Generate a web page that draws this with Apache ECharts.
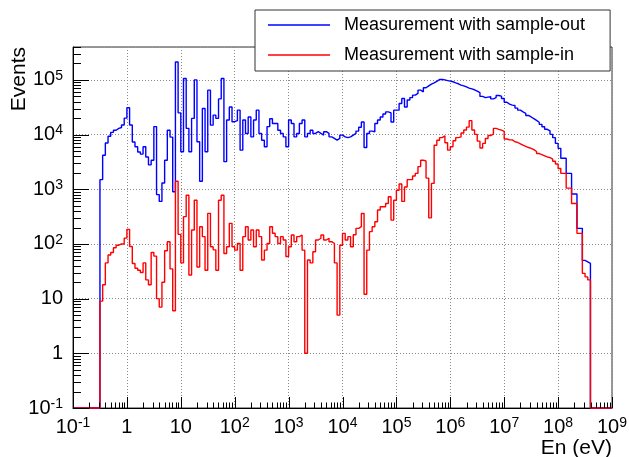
<!DOCTYPE html>
<html>
<head>
<meta charset="utf-8">
<script src="https://cdn.jsdelivr.net/npm/echarts@6/dist/echarts.min.js"></script>
<style>
  html, body { margin: 0; padding: 0; background: #ffffff; }
  #chart { width: 629px; height: 457px; }
</style>
</head>
<body>
<div id="chart"></div>
<script>
// Histogram binning: equal-width bins in log10(E), starting at 0.1 eV
const binsPerDecade = 20;
const energyLow = 0.1;

const seriesNames = ['Measurement with sample-out', 'Measurement with sample-in'];

// Counts per bin (200 bins, 0.1 eV .. 1 GeV)
const sampleOut = [
  0, 0, 0, 0, 0, 0, 0, 0, 0, 0,
  1500, 4200, 7000, 9300, 11000, 12000, 13000, 13500, 15000, 20000,
  31000, 15000, 7300, 6000, 4800, 4400, 6000, 3900, 2800, 3400,
  14000, 800, 600, 1300, 3400, 12000, 9000, 900, 213000, 25000,
  4850, 106000, 13000, 4850, 19800, 100000, 7400, 1400, 30000, 4850,
  65000, 14900, 22700, 19800, 45000, 106000, 3200, 18500, 32000, 17200,
  18000, 28000, 5200, 18500, 10500, 21000, 9100, 18500, 28000, 10500,
  7900, 6000, 14000, 19500, 16000, 16000, 12000, 10500, 9100, 6000,
  18500, 16000, 9100, 10500, 16000, 18500, 9100, 10500, 12000, 10500,
  11300, 10500, 9800, 11300, 10500, 9100, 8500, 7900, 8500, 9800,
  9100, 8800, 9100, 9800, 10500, 11600, 13600, 17000, 5800, 10500,
  11600, 11300, 16000, 18500, 21000, 23800, 26000, 25000, 17000, 28000,
  28000, 37000, 45800, 32000, 43000, 47500, 52700, 56600, 65000, 60700,
  72000, 78000, 84000, 88500, 94000, 102000, 102000, 100000, 97000, 95000,
  92500, 88500, 85000, 80400, 78000, 74800, 71000, 68500, 66000, 62500,
  58500, 50000, 47500, 48500, 49100, 45000, 47500, 52000, 50500, 45800,
  39000, 36000, 34600, 34000, 30500, 28000, 26000, 24500, 22400, 21000,
  19600, 18200, 16800, 15400, 13900, 12500, 11700, 10100, 8800, 6900,
  5600, 3700, 3700, 1950, 1950, 820, 820, 193, 193, 50,
  47, 44, 0, 0, 0, 0, 0, 0, 0, 0
];

const sampleIn = [
  0, 0, 0, 0, 0, 0, 0, 0, 0, 0,
  9, 18, 45, 63, 70, 85, 95, 100, 100, 128,
  185, 90, 44, 36, 33, 30, 45, 22, 18, 70,
  60, 10, 7, 20, 75, 110, 35, 6, 1400, 150,
  45, 316, 780, 27, 180, 630, 38, 207, 136, 33,
  363, 89, 78, 33, 630, 780, 67, 89, 238, 89,
  77, 102, 33, 136, 207, 118, 180, 89, 180, 136,
  51, 77, 102, 207, 157, 136, 102, 136, 118, 59,
  89, 146, 110, 136, 146, 77, 1, 51, 45, 72,
  118, 127, 146, 118, 127, 110, 102, 45, 5, 95,
  156, 118, 136, 89, 147, 193, 207, 360, 12, 77,
  168, 207, 255, 417, 479, 479, 550, 730, 273, 632,
  960, 1250, 600, 1100, 1500, 1500, 1750, 1950, 2600, 3400,
  3300, 1600, 300, 1280, 6400, 7900, 8800, 9500, 7100, 5200,
  6000, 7700, 8800, 9100, 10700, 12100, 13700, 18000, 12100, 10100,
  7600, 5700, 6900, 8500, 9600, 10200, 13000, 12500, 12100, 11500,
  8300, 8000, 8000, 7400, 7200, 6800, 6400, 6100, 5800, 5600,
  5300, 4900, 4500, 4300, 4100, 3900, 3800, 3550, 3250, 2900,
  2400, 1950, 1950, 1050, 1050, 550, 550, 156, 156, 29,
  25, 22, 0, 0, 0, 0, 0, 0, 0, 0
];

// Axis ranges and decade labels
const xRange = [0.1, 1e9];
const yRange = [0.1, 4e5];
const xTickLabels = ['10^-1', '1', '10', '10^2', '10^3', '10^4', '10^5', '10^6', '10^7', '10^8', '10^9'];
const yTickLabels = ['10^-1', '1', '10', '10^2', '10^3', '10^4', '10^5'];

const FONT = "'Liberation Sans', Arial, Helvetica, sans-serif";

// Turn "10^n" into rich text with a superscript exponent
function richLabel(txt) {
  const parts = txt.split('^');
  return parts.length === 2 ? '{b|' + parts[0] + '}{s|' + parts[1] + '}' : '{b|' + txt + '}';
}
function decadeFormatter(labels, firstExp) {
  return function (v) {
    const lg = Math.log10(v);
    const e = Math.round(lg);
    if (Math.abs(lg - e) > 1e-6) return '';
    const lab = labels[e - firstExp];
    return lab === undefined ? '' : richLabel(lab);
  };
}
const labelRich = {
  b: { fontFamily: FONT, fontSize: 20, lineHeight: 22, color: '#000' },
  s: { fontFamily: FONT, fontSize: 14, lineHeight: 14, color: '#000', verticalAlign: 'top' }
};

// Histogram as a step line: one point per lower bin edge, empty bins sit on the frame bottom
function histPoints(counts) {
  const pts = [];
  for (let k = 0; k < counts.length; k++) {
    const lo = energyLow * Math.pow(10, k / binsPerDecade);
    pts.push([lo, counts[k] > 0 ? counts[k] : yRange[0]]);
  }
  const last = counts[counts.length - 1];
  pts.push([energyLow * Math.pow(10, counts.length / binsPerDecade), last > 0 ? last : yRange[0]]);
  return pts;
}

// Major (decade) and minor (2..9) tick positions for a log range
function logTicks(lo, hi) {
  const out = [];
  const e0 = Math.round(Math.log10(lo)), e1 = Math.floor(Math.log10(hi));
  for (let e = e0; e <= e1; e++) {
    for (let m = 1; m <= 9; m++) {
      const v = m * Math.pow(10, e);
      if (v >= lo * 0.999 && v <= hi * 1.001) out.push([v, m === 1 ? 1 : 0]);
    }
  }
  return out;
}
const xTickData = logTicks(xRange[0], xRange[1]).map(t => [t[0], yRange[0], t[1]]);
const yTickData = logTicks(yRange[0], yRange[1]).map(t => [xRange[0], t[0], t[1]]);

function tickSeries(data, vertical) {
  return {
    type: 'custom',
    silent: true,
    animation: false,
    z: 5,
    encode: { x: 0, y: 1 },
    data: data,
    renderItem: function (params, api) {
      const p = api.coord([api.value(0), api.value(1)]);
      const major = api.value(2) === 1;
      let shape;
      if (vertical) {
        const x = Math.round(p[0]) + 0.5;
        const len = major ? 11 : 5.5;
        shape = { x1: x, y1: p[1], x2: x, y2: p[1] - len };
      } else {
        const y = Math.round(p[1]) + 0.5;
        const len = major ? 16 : 8;
        shape = { x1: p[0], y1: y, x2: p[0] + len, y2: y };
      }
      return { type: 'line', shape: shape, style: { stroke: '#000', lineWidth: 1 } };
    }
  };
}

const chart = echarts.init(document.getElementById('chart'), null, { renderer: 'canvas' });

chart.setOption({
  animation: false,
  backgroundColor: '#ffffff',
  grid: {
    left: 73, right: 17, top: 47, bottom: 49,
    show: true, borderColor: '#333', borderWidth: 1,
    containLabel: false, outerBoundsMode: 'none'
  },
  xAxis: {
    type: 'log', logBase: 10,
    min: xRange[0], max: xRange[1],
    interval: 1, splitNumber: 10,
    axisLine: { show: true, onZero: false, lineStyle: { color: '#000', width: 1 } },
    axisTick: { show: false },
    minorTick: { show: false },
    splitLine: { show: true, lineStyle: { color: '#8a8a8a', width: 1, type: [1, 2] } },
    axisLabel: {
      show: true, margin: 8, showMinLabel: true, showMaxLabel: true, hideOverlap: false,
      formatter: decadeFormatter(xTickLabels, -1), rich: labelRich
    }
  },
  yAxis: {
    type: 'log', logBase: 10,
    min: yRange[0], max: yRange[1],
    interval: 1, splitNumber: 7,
    axisLine: { show: true, onZero: false, lineStyle: { color: '#000', width: 1 } },
    axisTick: { show: false },
    minorTick: { show: false },
    splitLine: { show: true, lineStyle: { color: '#8a8a8a', width: 1, type: [1, 2] } },
    axisLabel: {
      show: true, margin: 10, showMinLabel: true, showMaxLabel: true, hideOverlap: false,
      formatter: decadeFormatter(yTickLabels, -1), rich: labelRich
    }
  },
  legend: {
    data: seriesNames.map(n => ({ name: n, icon: 'rect' })),
    orient: 'vertical',
    left: 255, top: 10,
    padding: [5, 25, 6, 13],
    itemWidth: 62, itemHeight: 1.5, itemGap: 10,
    backgroundColor: '#ffffff',
    borderColor: '#333', borderWidth: 1, borderRadius: 0,
    selectedMode: false,
    textStyle: { fontFamily: FONT, fontSize: 18, color: '#000', lineHeight: 20, padding: [0, 0, 0, 9] }
  },
  graphic: [
    {
      type: 'text', x: 9, y: 47, rotation: Math.PI / 2, silent: true,
      style: { text: 'Events', fontFamily: FONT, fontSize: 21, fill: '#000', align: 'right', verticalAlign: 'top' }
    },
    {
      type: 'text', x: 612, y: 438, silent: true,
      style: { text: 'En (eV)', fontFamily: FONT, fontSize: 21, fill: '#000', align: 'right', verticalAlign: 'top' }
    }
  ],
  series: [
    {
      name: seriesNames[0], type: 'line', step: 'end', symbol: 'none', showSymbol: false,
      data: histPoints(sampleOut), z: 3, clip: false,
      lineStyle: { color: '#0000ff', width: 1.4 }, itemStyle: { color: '#0000ff' }
    },
    {
      name: seriesNames[1], type: 'line', step: 'end', symbol: 'none', showSymbol: false,
      data: histPoints(sampleIn), z: 4, clip: false,
      lineStyle: { color: '#ff0000', width: 1.4 }, itemStyle: { color: '#ff0000' }
    },
    tickSeries(xTickData, true),
    tickSeries(yTickData, false)
  ]
});
</script>
</body>
</html>
